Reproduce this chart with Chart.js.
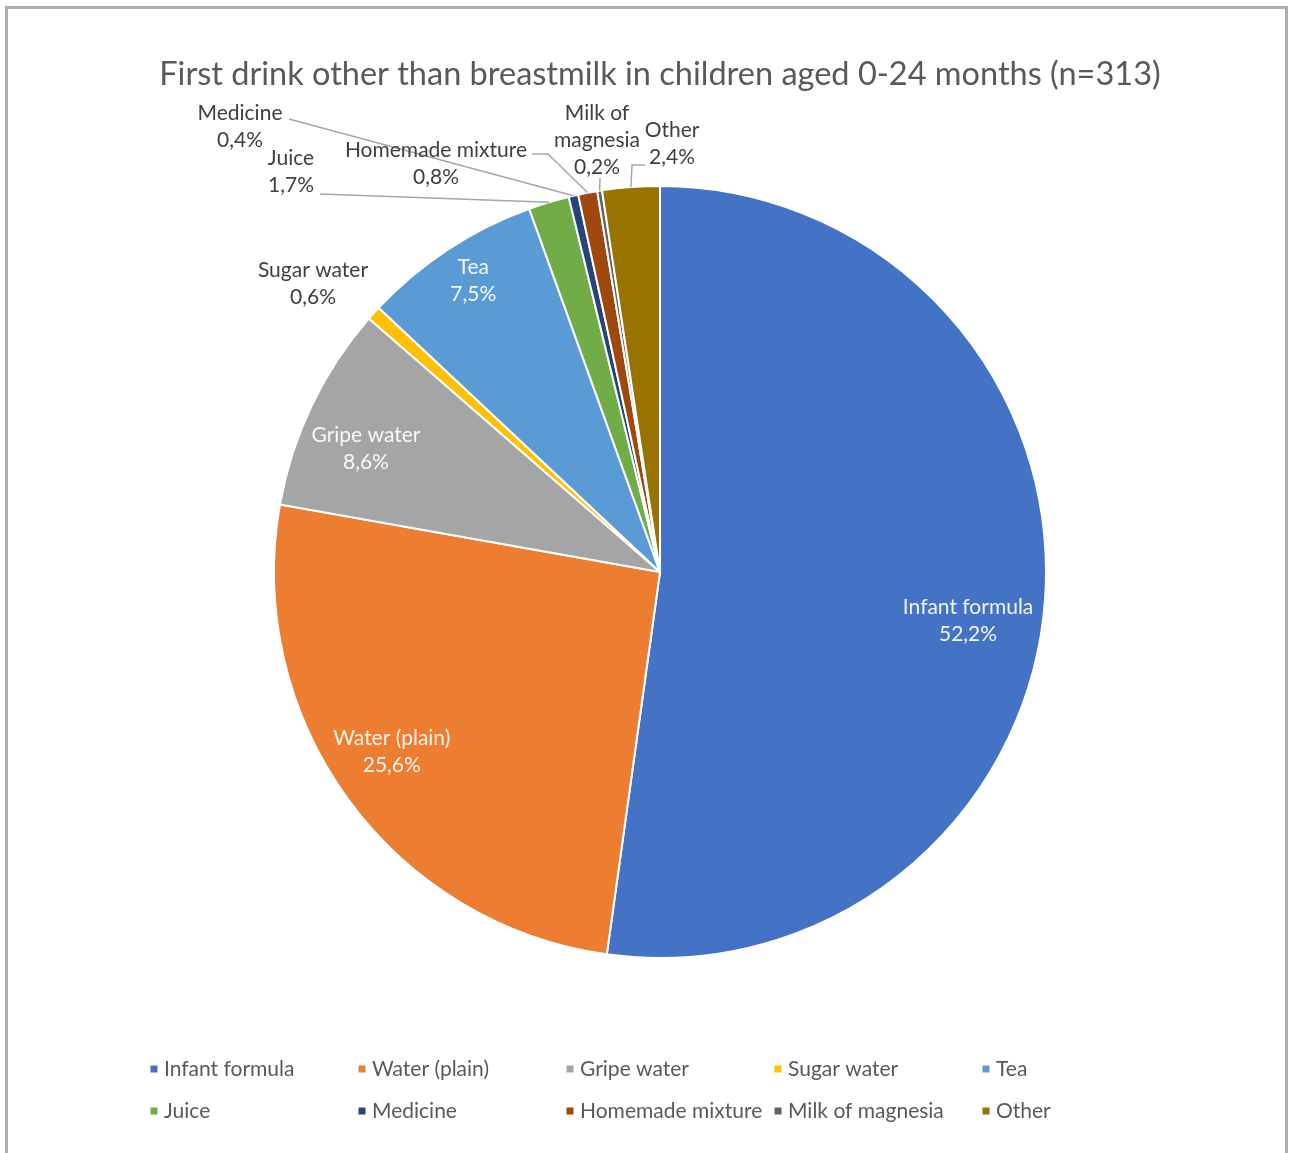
<!DOCTYPE html>
<html>
<head>
<meta charset="utf-8">
<script src="https://cdn.jsdelivr.net/npm/chart.js@4.4.1/dist/chart.umd.min.js"></script>
<style>
  html, body { margin: 0; padding: 0; background: #ffffff; }
  #wrap { position: relative; width: 1290px; height: 1153px; overflow: hidden; }
  #frame { position: absolute; left: 5px; top: 6px; width: 1277px; height: 1200px;
           border: 3px solid #adadad; border-bottom: none; }
  #c { position: absolute; left: 0; top: 0; }
</style>
</head>
<body>
<div id="wrap">
  <div id="frame"></div>
  <canvas id="c" width="1290" height="1153"></canvas>
</div>
<script>
// ---- data ----
const chartTitle = 'First drink other than breastmilk in children aged 0-24 months (n=313)';
const categories = ['Infant formula', 'Water (plain)', 'Gripe water', 'Sugar water', 'Tea',
                    'Juice', 'Medicine', 'Homemade mixture', 'Milk of magnesia', 'Other'];
const shares = [52.2, 25.6, 8.6, 0.6, 7.5, 1.7, 0.4, 0.8, 0.2, 2.4];

// ---- styling ----
const sliceColors = ['#4472C4', '#ED7D31', '#A5A5A5', '#FFC000', '#5B9BD5',
                     '#70AD47', '#264478', '#9E480E', '#636363', '#997300'];
const FONT = 'Lato, "Open Sans", sans-serif';
const TITLE_SIZE = 32.5;
const LABEL_SIZE = 21;
const LINE_GAP = 27;

// labels drawn inside their slice: fraction of the radius along the mid angle, plus a nudge
const insideLabels = {
  0: { r: 0.80, dx: 0, dy: 27 },
  1: { r: 0.83, dx: -9, dy: -9 },
  2: { r: 0.83, dx: -5, dy: 15 },
  4: { r: 0.90, dx: 4, dy: -1 }
};

// labels drawn outside: text centre, leader start, optional elbow
const callouts = {
  3: { x: 313, y: 270 },
  5: { x: 291, y: 158, from: [320, 194] },
  6: { x: 240, y: 113, from: [289, 119] },
  7: { x: 436, y: 150, from: [532, 154], elbow: [548, 154] },
  8: { x: 597, y: 113, lines: ['Milk of', 'magnesia'], from: [600, 178] },
  9: { x: 672, y: 130, from: [645, 165], elbow: [632, 165] }
};

const pct = v => v.toFixed(1).replace('.', ',') + '%';

const decorations = {
  id: 'decorations',
  afterDatasetsDraw(chart) {
    const ctx = chart.ctx;
    const arcs = chart.getDatasetMeta(0).data;
    ctx.save();

    // title
    ctx.fillStyle = '#595959';
    ctx.font = TITLE_SIZE + 'px ' + FONT;
    ctx.textAlign = 'center';
    ctx.textBaseline = 'middle';
    ctx.fillText(chartTitle, 660, 75);

    ctx.font = LABEL_SIZE + 'px ' + FONT;

    arcs.forEach((arc, i) => {
      const p = arc.getProps(['x', 'y', 'startAngle', 'endAngle', 'outerRadius'], true);
      const mid = (p.startAngle + p.endAngle) / 2;
      const inner = insideLabels[i];
      if (inner) {
        const r = p.outerRadius * inner.r;
        const cx = p.x + Math.cos(mid) * r + inner.dx;
        const cy = p.y + Math.sin(mid) * r + inner.dy;
        ctx.fillStyle = 'rgba(255,255,255,0.92)';
        ctx.fillText(categories[i], cx, cy - LINE_GAP / 2);
        ctx.fillText(pct(shares[i]), cx, cy + LINE_GAP / 2);
      } else if (callouts[i]) {
        const c = callouts[i];
        const lines = (c.lines || [categories[i]]).concat([pct(shares[i])]);
        ctx.fillStyle = '#404040';
        lines.forEach((t, k) => ctx.fillText(t, c.x, c.y + k * LINE_GAP));
        if (c.from) {
          const ex = p.x + Math.cos(mid) * p.outerRadius;
          const ey = p.y + Math.sin(mid) * p.outerRadius;
          ctx.strokeStyle = '#a6a6a6';
          ctx.lineWidth = 1.5;
          ctx.beginPath();
          ctx.moveTo(c.from[0], c.from[1]);
          if (c.elbow) ctx.lineTo(c.elbow[0], c.elbow[1]);
          ctx.lineTo(ex, ey);
          ctx.stroke();
        }
      }
    });

    // legend: two rows of five
    ctx.textAlign = 'left';
    categories.forEach((name, i) => {
      const col = i % 5, row = Math.floor(i / 5);
      const mx = 154 + col * 208;
      const my = 1069 + row * 42;
      ctx.fillStyle = sliceColors[i];
      ctx.fillRect(mx - 3.5, my - 3.5, 7, 7);
      ctx.fillStyle = '#595959';
      ctx.fillText(name, mx + 10, my);
    });

    ctx.restore();
  }
};

new Chart(document.getElementById('c'), {
  type: 'pie',
  data: {
    labels: categories,
    datasets: [{
      data: shares,
      backgroundColor: sliceColors,
      borderColor: '#ffffff',
      borderWidth: 2
    }]
  },
  options: {
    responsive: false,
    animation: false,
    events: [],
    layout: { padding: { left: 273, right: 243, top: 185, bottom: 194 } },
    plugins: {
      legend: { display: false },
      title: { display: false },
      tooltip: { enabled: false }
    }
  },
  plugins: [decorations]
});
</script>
</body>
</html>
